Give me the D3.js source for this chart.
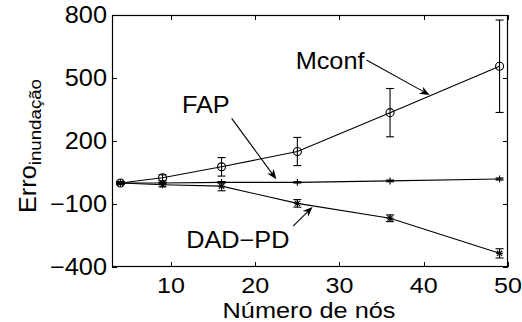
<!DOCTYPE html>
<html><head><meta charset="utf-8">
<script src="https://cdn.jsdelivr.net/npm/d3@7"></script>
<style>body{margin:0;background:#fff}svg{display:block}text{font-family:"Liberation Sans",Arial,sans-serif;fill:#000}</style>
</head><body>
<script>
const nodes = [4, 9, 16, 25, 36, 49];
const mconf = [0, 25, 77, 150, 335, 556];
const mconfErr = [6, 14, 44, 67, 115, 220];
const fap = [0, 0, 3, 3, 10, 19];
const fapErr = [3, 4, 4, 3, 4, 5];
const dad = [0, -8, -15, -97, -168, -335];
const dadErr = [4, 10, 22, 18, 16, 22];
const xTicks = [10, 20, 30, 40, 50];
const yTicks = [-400, -100, 200, 500, 800];
const labels = [
  {text: "Mconf", tx: 24.8, ty: 545, x1: 33.2, y1: 586, x2: 40.7, y2: 419},
  {text: "FAP", tx: 11.3, ty: 333, x1: 17.2, y1: 308, x2: 22.5, y2: 18},
  {text: "DAD\u2212PD", tx: 11.8, ty: -310, x1: 24.5, y1: -205, x2: 26.8, y2: -114}
];

const W = 522, H = 322;
const svg = d3.select("body").append("svg").attr("width", W).attr("height", H);
const x = d3.scaleLinear().domain([3, 50]).range([112, 508]);
const y = d3.scaleLinear().domain([-400, 800]).range([267, 15]);
const SX = 1.1, FS = 23;

// ticks (inward, all four sides)
const tl = 5;
const g = svg.append("g").attr("stroke", "#000").attr("stroke-width", 1);
xTicks.forEach(t => {
  const px = Math.round(x(t)) + 0.5;
  g.append("line").attr("x1", px).attr("x2", px).attr("y1", 267).attr("y2", 267 - tl);
  g.append("line").attr("x1", px).attr("x2", px).attr("y1", 15).attr("y2", 15 + tl);
});
yTicks.forEach(t => {
  const py = Math.round(y(t)) + 0.5;
  g.append("line").attr("x1", 112).attr("x2", 112 + tl).attr("y1", py).attr("y2", py);
  g.append("line").attr("x1", 508).attr("x2", 508 - tl).attr("y1", py).attr("y2", py);
});
svg.append("rect").attr("x", 112.5).attr("y", 15.5).attr("width", 395).attr("height", 251)
  .attr("fill", "none").attr("stroke", "#000").attr("stroke-width", 1.2);

// tick labels
xTicks.forEach(t => {
  svg.append("text").attr("transform", `translate(${x(t)},293) scale(${SX + 0.04},1)`)
    .attr("text-anchor", "middle").attr("font-size", 22).text(t);
});
yTicks.forEach(t => {
  svg.append("text").attr("transform", `translate(107,${y(t) + 8}) scale(${SX},1)`)
    .attr("text-anchor", "end").attr("font-size", FS).text(t < 0 ? "\u2212" + Math.abs(t) : t);
});

// axis labels
svg.append("text").attr("transform", `translate(309,318) scale(${SX + 0.05},1)`)
  .attr("text-anchor", "middle").attr("font-size", 22).text("Número de nós");
const yl = svg.append("text").attr("transform", `translate(36,213) rotate(-90) scale(${SX},1)`)
  .attr("font-size", FS);
yl.append("tspan").text("Erro");
yl.append("tspan").attr("font-size", 17).attr("dy", 5).text("inundação");

// series
const series = [
  {v: mconf, e: mconfErr, m: "circle"},
  {v: fap, e: fapErr, m: "plus"},
  {v: dad, e: dadErr, m: "star"}
];
const line = d3.line().x(d => x(d[0])).y(d => y(d[1]));
const cap = 4;
series.forEach(s => {
  const pts = nodes.map((n, i) => [n, s.v[i], s.e[i]]);
  svg.append("path").attr("d", line(pts)).attr("fill", "none").attr("stroke", "#000").attr("stroke-width", 1.1);
  const eb = svg.append("g").attr("stroke", "#000").attr("stroke-width", 1.1);
  pts.forEach(p => {
    const px = x(p[0]), top = y(p[1] + p[2]), bot = y(p[1] - p[2]);
    eb.append("line").attr("x1", px).attr("x2", px).attr("y1", top).attr("y2", bot);
    eb.append("line").attr("x1", px - cap).attr("x2", px + cap).attr("y1", top).attr("y2", top);
    eb.append("line").attr("x1", px - cap).attr("x2", px + cap).attr("y1", bot).attr("y2", bot);
    const py = y(p[1]);
    if (s.m === "circle") {
      eb.append("circle").attr("cx", px).attr("cy", py).attr("r", 4).attr("fill", "none");
    } else {
      const r = 3.5;
      eb.append("line").attr("x1", px - r).attr("x2", px + r).attr("y1", py).attr("y2", py);
      eb.append("line").attr("x1", px).attr("x2", px).attr("y1", py - r).attr("y2", py + r);
      if (s.m === "star") {
        const q = 2.6;
        eb.append("line").attr("x1", px - q).attr("x2", px + q).attr("y1", py - q).attr("y2", py + q);
        eb.append("line").attr("x1", px - q).attr("x2", px + q).attr("y1", py + q).attr("y2", py - q);
      }
    }
  });
});

// annotations
labels.forEach(a => {
  svg.append("text").attr("transform", `translate(${x(a.tx)},${y(a.ty)}) scale(${SX},1)`)
    .attr("font-size", FS).text(a.text);
  const x1 = x(a.x1), y1 = y(a.y1), x2 = x(a.x2), y2 = y(a.y2);
  const ang = Math.atan2(y2 - y1, x2 - x1);
  const L = 10, Wd = 4, back = 7;
  const bx = x2 - back * Math.cos(ang), by = y2 - back * Math.sin(ang);
  svg.append("line").attr("x1", x1).attr("y1", y1).attr("x2", bx).attr("y2", by)
    .attr("stroke", "#000").attr("stroke-width", 1.1);
  const px = -Math.sin(ang), py = Math.cos(ang);
  const hx = x2 - L * Math.cos(ang), hy = y2 - L * Math.sin(ang);
  const poly = [[x2, y2], [hx + Wd * px, hy + Wd * py], [bx, by], [hx - Wd * px, hy - Wd * py]];
  svg.append("path").attr("d", "M" + poly.map(p => p.join(",")).join("L") + "Z").attr("fill", "#000");
});
</script>
</body></html>
